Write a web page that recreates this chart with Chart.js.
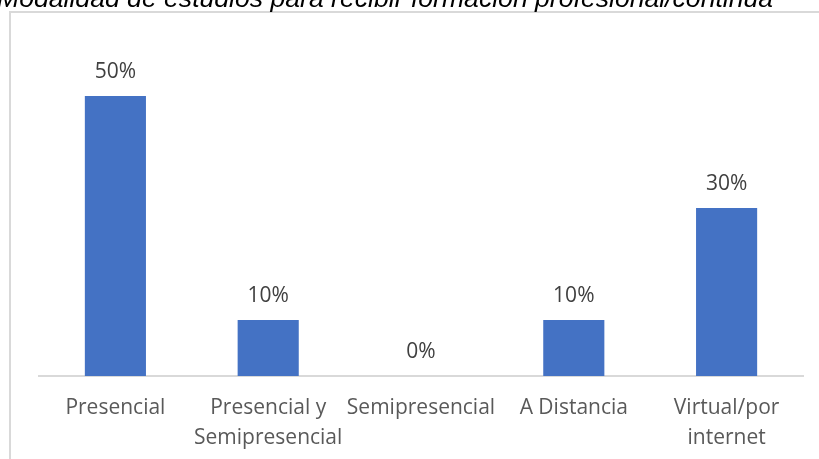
<!DOCTYPE html>
<html>
<head>
<meta charset="utf-8">
<script src="https://cdn.jsdelivr.net/npm/chart.js@4.4.1/dist/chart.umd.min.js"></script>
<style>
  html, body { margin: 0; padding: 0; background: #fff; }
  body { width: 819px; height: 459px; position: relative; overflow: hidden; }
  #frame { position: absolute; left: 9px; top: 11px; width: 820px; height: 460px;
           border-left: 2px solid #d9d9d9; border-top: 2px solid #d9d9d9; }
  #wrap { position: absolute; left: 0; top: 0; width: 819px; height: 459px; }
</style>
</head>
<body>
<div id="frame"></div>
<div id="wrap"><canvas id="c" width="819" height="459"></canvas></div>
<script>
// Categories and shares for the study-mode question
const categories = [
  'Presencial',
  ['Presencial y', 'Semipresencial'],
  'Semipresencial',
  'A Distancia',
  ['Virtual/por', 'internet']
];
const shares = [0.50, 0.10, 0.00, 0.10, 0.30];
const shareLabels = ['50%', '10%', '0%', '10%', '30%'];
const chartTitle = 'Modalidad de estudios para recibir formación profesional/continua';

const LABEL_FONT = '"Open Sans", sans-serif';

// Italic heading, partly above the top edge of the canvas
const headingText = {
  id: 'headingText',
  afterDraw(chart) {
    const ctx = chart.ctx;
    ctx.save();
    ctx.font = 'italic 26.6px "Liberation Sans", Arial, sans-serif';
    ctx.fillStyle = '#000';
    ctx.textAlign = 'left';
    ctx.textBaseline = 'alphabetic';
    ctx.fillText(chartTitle, -3, 7);
    ctx.restore();
  }
};

// Writes each percentage above its bar
const valueLabels = {
  id: 'valueLabels',
  afterDatasetsDraw(chart) {
    const ctx = chart.ctx;
    const meta = chart.getDatasetMeta(0);
    ctx.save();
    ctx.font = '21px ' + LABEL_FONT;
    ctx.fillStyle = '#404040';
    ctx.textAlign = 'center';
    ctx.textBaseline = 'middle';
    meta.data.forEach((bar, i) => {
      ctx.fillText(shareLabels[i], bar.x, bar.y - 24);
    });
    ctx.restore();
  }
};

new Chart(document.getElementById('c'), {
  type: 'bar',
  data: {
    labels: categories,
    datasets: [{
      data: shares,
      backgroundColor: '#4472c4',
      borderWidth: 0,
      categoryPercentage: 1.0,
      barPercentage: 0.4
    }]
  },
  options: {
    responsive: false,
    animation: false,
    layout: { padding: { left: 39, right: 16, top: 40, bottom: 0 } },
    plugins: { legend: { display: false }, tooltip: { enabled: false } },
    scales: {
      y: { display: false, min: 0, max: 0.6 },
      x: {
        grid: { display: false, drawTicks: false },
        border: { display: true, color: '#d9d9d9', width: 2 },
        ticks: {
          color: '#595959',
          padding: 17,
          maxRotation: 0,
          autoSkip: false,
          font: { family: LABEL_FONT, size: 21, lineHeight: 1.42 }
        },
        afterFit(scale) { scale.height = 83; }
      }
    }
  },
  plugins: [valueLabels, headingText]
});
</script>
</body>
</html>
